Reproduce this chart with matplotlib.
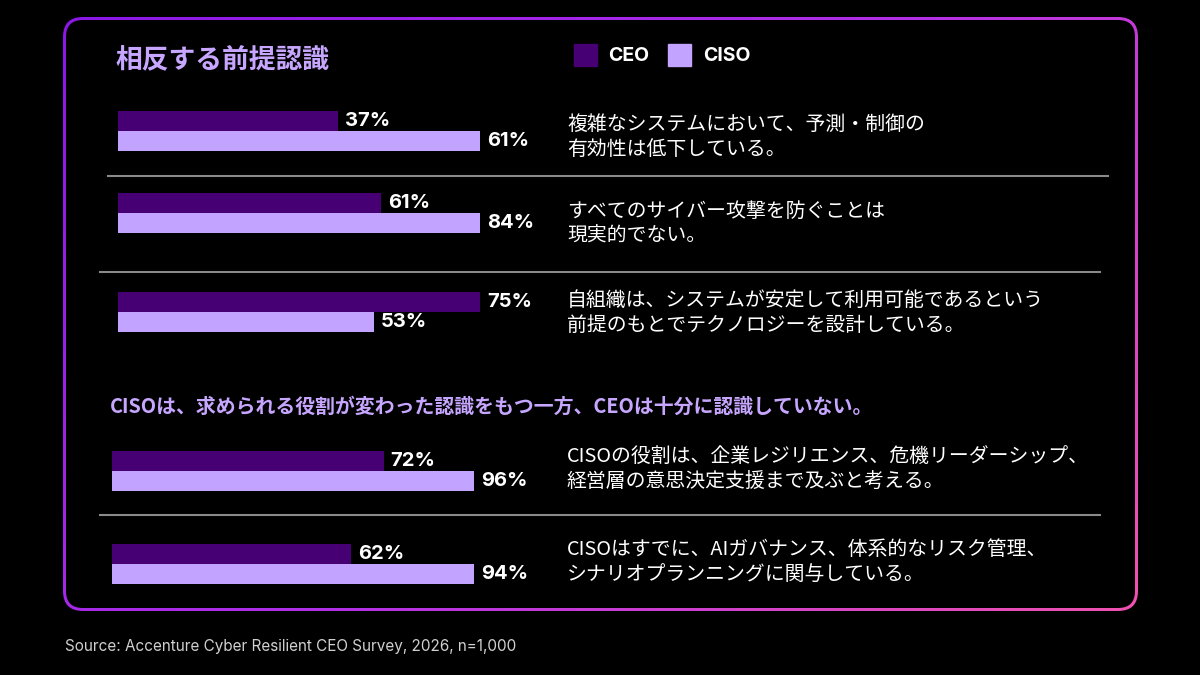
import numpy as np
import matplotlib.pyplot as plt
from matplotlib.patches import FancyBboxPatch
from matplotlib.colors import LinearSegmentedColormap

plt.rcParams['font.family'] = ['Noto Sans CJK JP', 'DejaVu Sans']

# データ
title = '相反する前提認識'
subtitle = 'CISOは、求められる役割が変わった認識をもつ一方、CEOは十分に認識していない。'
series = ['CEO', 'CISO']
ceo = [37, 61, 75, 72, 62]
ciso = [61, 84, 53, 96, 94]
statements = [
    '複雑なシステムにおいて、予測・制御の\n有効性は低下している。',
    'すべてのサイバー攻撃を防ぐことは\n現実的でない。',
    '自組織は、システムが安定して利用可能であるという\n前提のもとでテクノロジーを設計している。',
    'CISOの役割は、企業レジリエンス、危機リーダーシップ、\n経営層の意思決定支援まで及ぶと考える。',
    'CISOはすでに、AIガバナンス、体系的なリスク管理、\nシナリオプランニングに関与している。',
]
source = 'Source: Accenture Cyber Resilient CEO Survey, 2026, n=1,000'

# 色
c_ceo = '#460073'
c_ciso = '#c2a3ff'
c_title = '#c7a6ff'

W, H = 1200, 675
fig = plt.figure(figsize=(12, 6.75), dpi=100, facecolor='black')

# 背景用の軸 (ピクセル座標)
bg = fig.add_axes([0, 0, 1, 1])
bg.set_xlim(0, W)
bg.set_ylim(H, 0)
bg.axis('off')
bg.set_facecolor('black')

# グラデーションの枠
x0, y0, x1, y1 = 63, 17, 1138, 611
outer = FancyBboxPatch((x0, y0), x1 - x0, y1 - y0,
                       boxstyle='round,pad=0,rounding_size=20',
                       facecolor='none', edgecolor='none')
bg.add_patch(outer)
gx, gy = np.meshgrid(np.linspace(0, 1, 300), np.linspace(0, 1, 200))
grad = 0.65 * gx + 0.35 * gy
cmap = LinearSegmentedColormap.from_list('b', ['#8c18e6', '#b030e8', '#f052b0'])
img = bg.imshow(grad, cmap=cmap, extent=[x0, x1, y1, y0], aspect='auto', zorder=1)
img.set_clip_path(outer)
t = 3
inner = FancyBboxPatch((x0 + t, y0 + t), x1 - x0 - 2 * t, y1 - y0 - 2 * t,
                       boxstyle='round,pad=0,rounding_size=17',
                       facecolor='black', edgecolor='none', zorder=2)
bg.add_patch(inner)

# タイトル・凡例
bg.text(115, 59, title, color=c_title, fontsize=19.3, fontweight='bold',
        va='center', ha='left', zorder=3)
bg.add_patch(plt.Rectangle((574, 44), 23, 22, color=c_ceo, zorder=3))
bg.text(608, 56, series[0], color='white', fontsize=14, fontweight='bold',
        va='center', ha='left', zorder=3, family=['Inter', 'DejaVu Sans'])
bg.add_patch(plt.Rectangle((668, 44), 23, 22, color=c_ciso, zorder=3))
bg.text(703, 56, series[1], color='white', fontsize=14, fontweight='bold',
        va='center', ha='left', zorder=3, family=['Inter', 'DejaVu Sans'])

# 小見出し
bg.text(110, 406, subtitle, color=c_title, fontsize=14.3, fontweight='bold',
        va='center', ha='left', zorder=3)

# 区切り線
for (xa, xb, yy) in [(108, 1108, 176), (100, 1100, 272), (100, 1100, 515)]:
    bg.plot([xa, xb], [yy, yy], color='#8a8a8a', lw=1.5, zorder=3)

# ソース
bg.text(65, 647, source, color='#d0d0d0', fontsize=11, va='center', ha='left',
        family=['Inter', 'DejaVu Sans'])

# 各グループの棒グラフ
bar_left = [118, 118, 118, 112, 112]
bar_top = [111, 193, 292, 451, 544]
text_mid = [137, 224, 313, 469, 562]
bar_h = 20
bar_w = 362

for i in range(len(ceo)):
    ax = fig.add_axes([bar_left[i] / W, 1 - (bar_top[i] + 2 * bar_h) / H,
                       bar_w / W, 2 * bar_h / H])
    ax.set_facecolor('none')
    ax.axis('off')
    vals = [ceo[i], ciso[i]]
    ax.barh([1, 0], vals, height=0.96, color=[c_ceo, c_ciso])
    ax.set_ylim(-0.5, 1.5)
    ax.set_xlim(0, max(vals))
    for yy, v in zip([1, 0], vals):
        ax.annotate(f'{v}%', (v, yy), xytext=(5, 0), textcoords='offset points',
                    color='white', fontsize=14.5, fontweight='bold',
                    va='center', ha='left', annotation_clip=False,
                    family=['Inter', 'DejaVu Sans'])
    # 説明文
    bg.text(567, text_mid[i], statements[i], color='white',
            fontsize=14.3, va='center', ha='left', linespacing=1.2, zorder=3)

fig.savefig('out.png', dpi=100, facecolor='black')
